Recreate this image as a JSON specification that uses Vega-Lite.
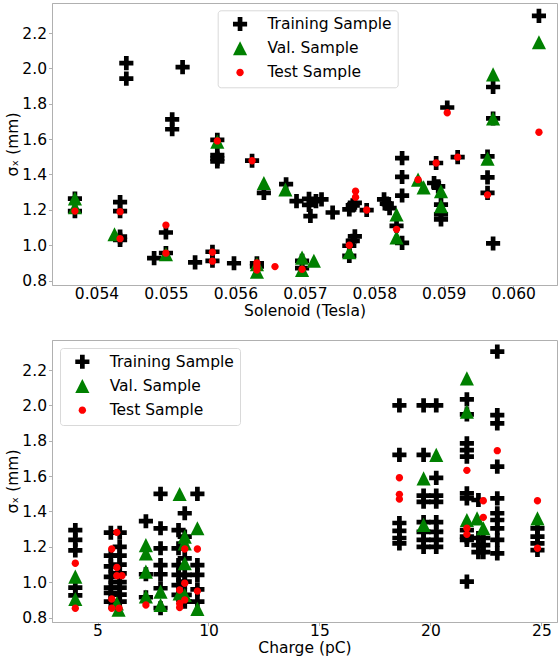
{
  "$schema": "https://vega.github.io/schema/vega-lite/v6.json",
  "padding": {"top": 2, "left": 5, "right": 2, "bottom": 0},
  "config": {
    "font": "DejaVu Sans",
    "view": {"stroke": "#b0b0b0", "strokeWidth": 1},
    "axis": {"grid": false, "domainColor": "#b0b0b0", "tickColor": "#b0b0b0", "tickSize": 3.5, "labelFontSize": 15.5, "titleFontSize": 15.5, "labelColor": "black", "titleColor": "black", "titleFontWeight": "normal", "labelFont": "DejaVu Sans", "titleFont": "DejaVu Sans", "labelPadding": 2},
    "axisX": {"labelPadding": -2.5, "titlePadding": 1.5},
    "legend": {"orient": "none", "title": null, "labelFontSize": 15.5, "labelFont": "DejaVu Sans", "labelColor": "black", "fillColor": "white", "strokeColor": "#d9d9d9", "cornerRadius": 3, "padding": 6, "symbolSize": 200, "symbolOffset": 8.6, "labelOffset": 19.6, "rowPadding": 7.2, "symbolStrokeWidth": 0},
    "concat": {"spacing": 20}
  },
  "datasets": {
    "top": [
      {"sol": 0.05369, "sigma": 1.264, "sample": "Training Sample"},
      {"sol": 0.05369, "sigma": 1.193, "sample": "Training Sample"},
      {"sol": 0.05443, "sigma": 2.030, "sample": "Training Sample"},
      {"sol": 0.05443, "sigma": 1.942, "sample": "Training Sample"},
      {"sol": 0.05524, "sigma": 2.007, "sample": "Training Sample"},
      {"sol": 0.05509, "sigma": 1.712, "sample": "Training Sample"},
      {"sol": 0.05509, "sigma": 1.656, "sample": "Training Sample"},
      {"sol": 0.05434, "sigma": 1.244, "sample": "Training Sample"},
      {"sol": 0.05434, "sigma": 1.193, "sample": "Training Sample"},
      {"sol": 0.05434, "sigma": 1.049, "sample": "Training Sample"},
      {"sol": 0.05434, "sigma": 1.030, "sample": "Training Sample"},
      {"sol": 0.05483, "sigma": 0.927, "sample": "Training Sample"},
      {"sol": 0.05500, "sigma": 1.072, "sample": "Training Sample"},
      {"sol": 0.05500, "sigma": 0.956, "sample": "Training Sample"},
      {"sol": 0.05542, "sigma": 0.903, "sample": "Training Sample"},
      {"sol": 0.05567, "sigma": 0.963, "sample": "Training Sample"},
      {"sol": 0.05567, "sigma": 0.912, "sample": "Training Sample"},
      {"sol": 0.05574, "sigma": 1.596, "sample": "Training Sample"},
      {"sol": 0.05574, "sigma": 1.510, "sample": "Training Sample"},
      {"sol": 0.05574, "sigma": 1.490, "sample": "Training Sample"},
      {"sol": 0.05574, "sigma": 1.474, "sample": "Training Sample"},
      {"sol": 0.05598, "sigma": 0.898, "sample": "Training Sample"},
      {"sol": 0.05624, "sigma": 1.478, "sample": "Training Sample"},
      {"sol": 0.05641, "sigma": 1.296, "sample": "Training Sample"},
      {"sol": 0.05673, "sigma": 1.345, "sample": "Training Sample"},
      {"sol": 0.05688, "sigma": 1.249, "sample": "Training Sample"},
      {"sol": 0.05706, "sigma": 1.262, "sample": "Training Sample"},
      {"sol": 0.05706, "sigma": 1.228, "sample": "Training Sample"},
      {"sol": 0.05708, "sigma": 1.165, "sample": "Training Sample"},
      {"sol": 0.05716, "sigma": 1.249, "sample": "Training Sample"},
      {"sol": 0.05724, "sigma": 1.259, "sample": "Training Sample"},
      {"sol": 0.05740, "sigma": 1.185, "sample": "Training Sample"},
      {"sol": 0.05631, "sigma": 0.898, "sample": "Training Sample"},
      {"sol": 0.05631, "sigma": 0.880, "sample": "Training Sample"},
      {"sol": 0.05696, "sigma": 0.912, "sample": "Training Sample"},
      {"sol": 0.05696, "sigma": 0.870, "sample": "Training Sample"},
      {"sol": 0.05764, "sigma": 1.203, "sample": "Training Sample"},
      {"sol": 0.05769, "sigma": 1.225, "sample": "Training Sample"},
      {"sol": 0.05772, "sigma": 1.240, "sample": "Training Sample"},
      {"sol": 0.05789, "sigma": 1.199, "sample": "Training Sample"},
      {"sol": 0.05764, "sigma": 0.997, "sample": "Training Sample"},
      {"sol": 0.05764, "sigma": 0.940, "sample": "Training Sample"},
      {"sol": 0.05769, "sigma": 1.025, "sample": "Training Sample"},
      {"sol": 0.05772, "sigma": 1.050, "sample": "Training Sample"},
      {"sol": 0.05814, "sigma": 1.259, "sample": "Training Sample"},
      {"sol": 0.05818, "sigma": 1.235, "sample": "Training Sample"},
      {"sol": 0.05822, "sigma": 1.210, "sample": "Training Sample"},
      {"sol": 0.05832, "sigma": 1.110, "sample": "Training Sample"},
      {"sol": 0.05840, "sigma": 1.493, "sample": "Training Sample"},
      {"sol": 0.05840, "sigma": 1.386, "sample": "Training Sample"},
      {"sol": 0.05840, "sigma": 1.281, "sample": "Training Sample"},
      {"sol": 0.05840, "sigma": 1.013, "sample": "Training Sample"},
      {"sol": 0.05886, "sigma": 1.352, "sample": "Training Sample"},
      {"sol": 0.05889, "sigma": 1.465, "sample": "Training Sample"},
      {"sol": 0.05892, "sigma": 1.333, "sample": "Training Sample"},
      {"sol": 0.05896, "sigma": 1.230, "sample": "Training Sample"},
      {"sol": 0.05896, "sigma": 1.175, "sample": "Training Sample"},
      {"sol": 0.05896, "sigma": 1.146, "sample": "Training Sample"},
      {"sol": 0.05905, "sigma": 1.779, "sample": "Training Sample"},
      {"sol": 0.05920, "sigma": 1.498, "sample": "Training Sample"},
      {"sol": 0.05963, "sigma": 1.502, "sample": "Training Sample"},
      {"sol": 0.05963, "sigma": 1.384, "sample": "Training Sample"},
      {"sol": 0.05963, "sigma": 1.296, "sample": "Training Sample"},
      {"sol": 0.05971, "sigma": 1.895, "sample": "Training Sample"},
      {"sol": 0.05971, "sigma": 1.717, "sample": "Training Sample"},
      {"sol": 0.05971, "sigma": 1.010, "sample": "Training Sample"},
      {"sol": 0.06037, "sigma": 2.297, "sample": "Training Sample"},
      {"sol": 0.05369, "sigma": 1.264, "sample": "Val. Sample"},
      {"sol": 0.05369, "sigma": 1.215, "sample": "Val. Sample"},
      {"sol": 0.05426, "sigma": 1.062, "sample": "Val. Sample"},
      {"sol": 0.05500, "sigma": 0.950, "sample": "Val. Sample"},
      {"sol": 0.05574, "sigma": 1.586, "sample": "Val. Sample"},
      {"sol": 0.05631, "sigma": 0.893, "sample": "Val. Sample"},
      {"sol": 0.05631, "sigma": 0.850, "sample": "Val. Sample"},
      {"sol": 0.05641, "sigma": 1.352, "sample": "Val. Sample"},
      {"sol": 0.05672, "sigma": 1.315, "sample": "Val. Sample"},
      {"sol": 0.05696, "sigma": 0.930, "sample": "Val. Sample"},
      {"sol": 0.05696, "sigma": 0.860, "sample": "Val. Sample"},
      {"sol": 0.05713, "sigma": 0.912, "sample": "Val. Sample"},
      {"sol": 0.05764, "sigma": 0.960, "sample": "Val. Sample"},
      {"sol": 0.05832, "sigma": 1.174, "sample": "Val. Sample"},
      {"sol": 0.05832, "sigma": 1.044, "sample": "Val. Sample"},
      {"sol": 0.05863, "sigma": 1.371, "sample": "Val. Sample"},
      {"sol": 0.05871, "sigma": 1.327, "sample": "Val. Sample"},
      {"sol": 0.05896, "sigma": 1.305, "sample": "Val. Sample"},
      {"sol": 0.05896, "sigma": 1.221, "sample": "Val. Sample"},
      {"sol": 0.05963, "sigma": 1.490, "sample": "Val. Sample"},
      {"sol": 0.05971, "sigma": 1.966, "sample": "Val. Sample"},
      {"sol": 0.05971, "sigma": 1.717, "sample": "Val. Sample"},
      {"sol": 0.06037, "sigma": 2.148, "sample": "Val. Sample"},
      {"sol": 0.05369, "sigma": 1.193, "sample": "Test Sample"},
      {"sol": 0.05434, "sigma": 1.190, "sample": "Test Sample"},
      {"sol": 0.05434, "sigma": 1.037, "sample": "Test Sample"},
      {"sol": 0.05500, "sigma": 1.114, "sample": "Test Sample"},
      {"sol": 0.05500, "sigma": 0.955, "sample": "Test Sample"},
      {"sol": 0.05567, "sigma": 0.960, "sample": "Test Sample"},
      {"sol": 0.05567, "sigma": 0.910, "sample": "Test Sample"},
      {"sol": 0.05574, "sigma": 1.590, "sample": "Test Sample"},
      {"sol": 0.05624, "sigma": 1.478, "sample": "Test Sample"},
      {"sol": 0.05631, "sigma": 0.900, "sample": "Test Sample"},
      {"sol": 0.05631, "sigma": 0.880, "sample": "Test Sample"},
      {"sol": 0.05631, "sigma": 0.860, "sample": "Test Sample"},
      {"sol": 0.05657, "sigma": 0.879, "sample": "Test Sample"},
      {"sol": 0.05696, "sigma": 0.864, "sample": "Test Sample"},
      {"sol": 0.05764, "sigma": 1.000, "sample": "Test Sample"},
      {"sol": 0.05773, "sigma": 1.305, "sample": "Test Sample"},
      {"sol": 0.05773, "sigma": 1.272, "sample": "Test Sample"},
      {"sol": 0.05789, "sigma": 1.199, "sample": "Test Sample"},
      {"sol": 0.05832, "sigma": 1.090, "sample": "Test Sample"},
      {"sol": 0.05863, "sigma": 1.371, "sample": "Test Sample"},
      {"sol": 0.05889, "sigma": 1.465, "sample": "Test Sample"},
      {"sol": 0.05920, "sigma": 1.498, "sample": "Test Sample"},
      {"sol": 0.05905, "sigma": 1.749, "sample": "Test Sample"},
      {"sol": 0.05963, "sigma": 1.285, "sample": "Test Sample"},
      {"sol": 0.06037, "sigma": 1.639, "sample": "Test Sample"}
    ],
    "bottom": [
      {"charge": 4.0, "sigma": 1.295, "sample": "Training Sample"},
      {"charge": 4.0, "sigma": 1.24, "sample": "Training Sample"},
      {"charge": 4.0, "sigma": 1.18, "sample": "Training Sample"},
      {"charge": 4.0, "sigma": 0.97, "sample": "Training Sample"},
      {"charge": 4.0, "sigma": 0.925, "sample": "Training Sample"},
      {"charge": 5.6, "sigma": 1.28, "sample": "Training Sample"},
      {"charge": 5.6, "sigma": 1.15, "sample": "Training Sample"},
      {"charge": 5.6, "sigma": 1.09, "sample": "Training Sample"},
      {"charge": 5.6, "sigma": 1.03, "sample": "Training Sample"},
      {"charge": 5.6, "sigma": 0.97, "sample": "Training Sample"},
      {"charge": 5.6, "sigma": 0.94, "sample": "Training Sample"},
      {"charge": 5.6, "sigma": 0.89, "sample": "Training Sample"},
      {"charge": 6.0, "sigma": 1.28, "sample": "Training Sample"},
      {"charge": 6.0, "sigma": 1.2, "sample": "Training Sample"},
      {"charge": 6.0, "sigma": 1.15, "sample": "Training Sample"},
      {"charge": 6.0, "sigma": 1.1, "sample": "Training Sample"},
      {"charge": 6.0, "sigma": 1.05, "sample": "Training Sample"},
      {"charge": 6.0, "sigma": 1.0, "sample": "Training Sample"},
      {"charge": 6.0, "sigma": 0.97, "sample": "Training Sample"},
      {"charge": 6.0, "sigma": 0.93, "sample": "Training Sample"},
      {"charge": 6.0, "sigma": 0.89, "sample": "Training Sample"},
      {"charge": 7.18, "sigma": 1.345, "sample": "Training Sample"},
      {"charge": 7.18, "sigma": 1.045, "sample": "Training Sample"},
      {"charge": 7.18, "sigma": 0.915, "sample": "Training Sample"},
      {"charge": 7.84, "sigma": 1.5, "sample": "Training Sample"},
      {"charge": 7.84, "sigma": 1.305, "sample": "Training Sample"},
      {"charge": 7.84, "sigma": 1.192, "sample": "Training Sample"},
      {"charge": 7.84, "sigma": 1.097, "sample": "Training Sample"},
      {"charge": 7.84, "sigma": 1.045, "sample": "Training Sample"},
      {"charge": 7.84, "sigma": 0.966, "sample": "Training Sample"},
      {"charge": 7.84, "sigma": 0.853, "sample": "Training Sample"},
      {"charge": 8.65, "sigma": 1.295, "sample": "Training Sample"},
      {"charge": 8.65, "sigma": 1.192, "sample": "Training Sample"},
      {"charge": 8.65, "sigma": 1.097, "sample": "Training Sample"},
      {"charge": 8.65, "sigma": 1.041, "sample": "Training Sample"},
      {"charge": 8.65, "sigma": 0.984, "sample": "Training Sample"},
      {"charge": 8.65, "sigma": 0.928, "sample": "Training Sample"},
      {"charge": 8.93, "sigma": 1.39, "sample": "Training Sample"},
      {"charge": 8.93, "sigma": 1.258, "sample": "Training Sample"},
      {"charge": 8.93, "sigma": 1.135, "sample": "Training Sample"},
      {"charge": 8.93, "sigma": 1.041, "sample": "Training Sample"},
      {"charge": 8.93, "sigma": 1.003, "sample": "Training Sample"},
      {"charge": 8.93, "sigma": 0.928, "sample": "Training Sample"},
      {"charge": 8.93, "sigma": 0.89, "sample": "Training Sample"},
      {"charge": 9.5, "sigma": 1.5, "sample": "Training Sample"},
      {"charge": 9.5, "sigma": 1.097, "sample": "Training Sample"},
      {"charge": 9.5, "sigma": 1.041, "sample": "Training Sample"},
      {"charge": 9.5, "sigma": 0.96, "sample": "Training Sample"},
      {"charge": 9.5, "sigma": 0.89, "sample": "Training Sample"},
      {"charge": 18.6, "sigma": 2.0, "sample": "Training Sample"},
      {"charge": 18.6, "sigma": 1.72, "sample": "Training Sample"},
      {"charge": 18.6, "sigma": 1.335, "sample": "Training Sample"},
      {"charge": 18.6, "sigma": 1.29, "sample": "Training Sample"},
      {"charge": 18.6, "sigma": 1.25, "sample": "Training Sample"},
      {"charge": 18.6, "sigma": 1.22, "sample": "Training Sample"},
      {"charge": 19.69, "sigma": 2.0, "sample": "Training Sample"},
      {"charge": 19.69, "sigma": 1.72, "sample": "Training Sample"},
      {"charge": 19.69, "sigma": 1.49, "sample": "Training Sample"},
      {"charge": 19.69, "sigma": 1.455, "sample": "Training Sample"},
      {"charge": 19.69, "sigma": 1.34, "sample": "Training Sample"},
      {"charge": 19.69, "sigma": 1.285, "sample": "Training Sample"},
      {"charge": 19.69, "sigma": 1.24, "sample": "Training Sample"},
      {"charge": 19.69, "sigma": 1.2, "sample": "Training Sample"},
      {"charge": 20.26, "sigma": 2.0, "sample": "Training Sample"},
      {"charge": 20.26, "sigma": 1.59, "sample": "Training Sample"},
      {"charge": 20.26, "sigma": 1.49, "sample": "Training Sample"},
      {"charge": 20.26, "sigma": 1.455, "sample": "Training Sample"},
      {"charge": 20.26, "sigma": 1.34, "sample": "Training Sample"},
      {"charge": 20.26, "sigma": 1.285, "sample": "Training Sample"},
      {"charge": 20.26, "sigma": 1.24, "sample": "Training Sample"},
      {"charge": 20.26, "sigma": 1.2, "sample": "Training Sample"},
      {"charge": 21.64, "sigma": 2.034, "sample": "Training Sample"},
      {"charge": 21.64, "sigma": 1.949, "sample": "Training Sample"},
      {"charge": 21.64, "sigma": 1.785, "sample": "Training Sample"},
      {"charge": 21.64, "sigma": 1.747, "sample": "Training Sample"},
      {"charge": 21.64, "sigma": 1.71, "sample": "Training Sample"},
      {"charge": 21.64, "sigma": 1.503, "sample": "Training Sample"},
      {"charge": 21.64, "sigma": 1.474, "sample": "Training Sample"},
      {"charge": 21.64, "sigma": 1.295, "sample": "Training Sample"},
      {"charge": 21.64, "sigma": 1.258, "sample": "Training Sample"},
      {"charge": 21.64, "sigma": 1.239, "sample": "Training Sample"},
      {"charge": 21.64, "sigma": 1.003, "sample": "Training Sample"},
      {"charge": 22.16, "sigma": 1.465, "sample": "Training Sample"},
      {"charge": 22.16, "sigma": 1.25, "sample": "Training Sample"},
      {"charge": 22.16, "sigma": 1.21, "sample": "Training Sample"},
      {"charge": 22.16, "sigma": 1.17, "sample": "Training Sample"},
      {"charge": 22.38, "sigma": 1.25, "sample": "Training Sample"},
      {"charge": 22.38, "sigma": 1.21, "sample": "Training Sample"},
      {"charge": 22.38, "sigma": 1.17, "sample": "Training Sample"},
      {"charge": 23.01, "sigma": 2.304, "sample": "Training Sample"},
      {"charge": 23.01, "sigma": 1.945, "sample": "Training Sample"},
      {"charge": 23.01, "sigma": 1.898, "sample": "Training Sample"},
      {"charge": 23.01, "sigma": 1.654, "sample": "Training Sample"},
      {"charge": 23.01, "sigma": 1.474, "sample": "Training Sample"},
      {"charge": 23.01, "sigma": 1.39, "sample": "Training Sample"},
      {"charge": 23.01, "sigma": 1.352, "sample": "Training Sample"},
      {"charge": 23.01, "sigma": 1.305, "sample": "Training Sample"},
      {"charge": 23.01, "sigma": 1.239, "sample": "Training Sample"},
      {"charge": 23.01, "sigma": 1.163, "sample": "Training Sample"},
      {"charge": 24.82, "sigma": 1.305, "sample": "Training Sample"},
      {"charge": 24.82, "sigma": 1.258, "sample": "Training Sample"},
      {"charge": 24.82, "sigma": 1.22, "sample": "Training Sample"},
      {"charge": 24.82, "sigma": 1.182, "sample": "Training Sample"},
      {"charge": 4.0, "sigma": 1.032, "sample": "Val. Sample"},
      {"charge": 4.0, "sigma": 0.905, "sample": "Val. Sample"},
      {"charge": 5.87, "sigma": 0.88, "sample": "Val. Sample"},
      {"charge": 5.95, "sigma": 0.845, "sample": "Val. Sample"},
      {"charge": 7.18, "sigma": 1.21, "sample": "Val. Sample"},
      {"charge": 7.18, "sigma": 1.163, "sample": "Val. Sample"},
      {"charge": 7.18, "sigma": 1.06, "sample": "Val. Sample"},
      {"charge": 7.18, "sigma": 0.919, "sample": "Val. Sample"},
      {"charge": 7.84, "sigma": 0.947, "sample": "Val. Sample"},
      {"charge": 7.84, "sigma": 0.871, "sample": "Val. Sample"},
      {"charge": 8.7, "sigma": 1.499, "sample": "Val. Sample"},
      {"charge": 8.7, "sigma": 0.937, "sample": "Val. Sample"},
      {"charge": 8.93, "sigma": 1.258, "sample": "Val. Sample"},
      {"charge": 8.93, "sigma": 1.22, "sample": "Val. Sample"},
      {"charge": 8.93, "sigma": 1.107, "sample": "Val. Sample"},
      {"charge": 8.93, "sigma": 0.928, "sample": "Val. Sample"},
      {"charge": 9.5, "sigma": 1.305, "sample": "Val. Sample"},
      {"charge": 9.5, "sigma": 0.849, "sample": "Val. Sample"},
      {"charge": 19.69, "sigma": 1.587, "sample": "Val. Sample"},
      {"charge": 19.69, "sigma": 1.324, "sample": "Val. Sample"},
      {"charge": 20.26, "sigma": 1.72, "sample": "Val. Sample"},
      {"charge": 21.64, "sigma": 2.153, "sample": "Val. Sample"},
      {"charge": 21.64, "sigma": 1.964, "sample": "Val. Sample"},
      {"charge": 21.64, "sigma": 1.352, "sample": "Val. Sample"},
      {"charge": 22.1, "sigma": 1.361, "sample": "Val. Sample"},
      {"charge": 22.38, "sigma": 1.305, "sample": "Val. Sample"},
      {"charge": 24.82, "sigma": 1.361, "sample": "Val. Sample"},
      {"charge": 4.0, "sigma": 1.107, "sample": "Test Sample"},
      {"charge": 4.0, "sigma": 0.853, "sample": "Test Sample"},
      {"charge": 5.87, "sigma": 1.282, "sample": "Test Sample"},
      {"charge": 5.64, "sigma": 1.188, "sample": "Test Sample"},
      {"charge": 5.87, "sigma": 1.083, "sample": "Test Sample"},
      {"charge": 5.87, "sigma": 1.037, "sample": "Test Sample"},
      {"charge": 6.1, "sigma": 1.037, "sample": "Test Sample"},
      {"charge": 5.64, "sigma": 0.905, "sample": "Test Sample"},
      {"charge": 5.64, "sigma": 0.853, "sample": "Test Sample"},
      {"charge": 5.97, "sigma": 0.853, "sample": "Test Sample"},
      {"charge": 7.18, "sigma": 0.871, "sample": "Test Sample"},
      {"charge": 8.93, "sigma": 1.188, "sample": "Test Sample"},
      {"charge": 8.93, "sigma": 0.994, "sample": "Test Sample"},
      {"charge": 8.93, "sigma": 0.90, "sample": "Test Sample"},
      {"charge": 8.7, "sigma": 0.956, "sample": "Test Sample"},
      {"charge": 8.7, "sigma": 0.88, "sample": "Test Sample"},
      {"charge": 8.7, "sigma": 0.857, "sample": "Test Sample"},
      {"charge": 9.5, "sigma": 1.188, "sample": "Test Sample"},
      {"charge": 9.5, "sigma": 0.95, "sample": "Test Sample"},
      {"charge": 18.6, "sigma": 1.591, "sample": "Test Sample"},
      {"charge": 18.6, "sigma": 1.497, "sample": "Test Sample"},
      {"charge": 18.6, "sigma": 1.47, "sample": "Test Sample"},
      {"charge": 21.64, "sigma": 1.633, "sample": "Test Sample"},
      {"charge": 21.64, "sigma": 1.305, "sample": "Test Sample"},
      {"charge": 21.64, "sigma": 1.271, "sample": "Test Sample"},
      {"charge": 22.38, "sigma": 1.461, "sample": "Test Sample"},
      {"charge": 22.38, "sigma": 1.367, "sample": "Test Sample"},
      {"charge": 23.01, "sigma": 1.744, "sample": "Test Sample"},
      {"charge": 24.82, "sigma": 1.461, "sample": "Test Sample"},
      {"charge": 24.82, "sigma": 1.192, "sample": "Test Sample"}
    ]
  },
  "vconcat": [
    {
      "width": 505,
      "height": 282,
      "data": {"name": "top"},
      "mark": {"type": "point", "filled": true, "opacity": 1, "size": 200},
      "encoding": {
        "x": {"field": "sol", "type": "quantitative", "scale": {"domain": [0.05336, 0.06063], "nice": false, "zero": false}, "axis": {"title": "Solenoid (Tesla)", "values": [0.054, 0.055, 0.056, 0.057, 0.058, 0.059, 0.060], "format": ".3f"}},
        "y": {"field": "sigma", "type": "quantitative", "scale": {"domain": [0.775, 2.37], "nice": false, "zero": false}, "axis": {"title": "σₓ (mm)", "values": [0.8, 1.0, 1.2, 1.4, 1.6, 1.8, 2.0, 2.2], "format": ".1f", "titlePadding": 1}},
        "shape": {"field": "sample", "type": "nominal", "scale": {"domain": ["Training Sample", "Val. Sample", "Test Sample"], "range": ["M-1,-0.333H-0.333V-1H0.333V-0.333H1V0.333H0.333V1H-0.333V0.333H-1Z", "M0,-1L1,1L-1,1Z", "M0.52,0A0.52,0.52 0 1,1 -0.52,0A0.52,0.52 0 1,1 0.52,0Z"]}, "legend": {"legendX": 165.7, "legendY": 7.3}},
        "color": {"field": "sample", "type": "nominal", "scale": {"domain": ["Training Sample", "Val. Sample", "Test Sample"], "range": ["black", "green", "red"]}, "legend": {"legendX": 165.7, "legendY": 7.3}}
      }
    },
    {
      "width": 505,
      "height": 282,
      "data": {"name": "bottom"},
      "mark": {"type": "point", "filled": true, "opacity": 1, "size": 200},
      "encoding": {
        "x": {"field": "charge", "type": "quantitative", "scale": {"domain": [2.95, 25.7], "nice": false, "zero": false}, "axis": {"title": "Charge (pC)", "values": [5, 10, 15, 20, 25], "format": "d"}},
        "y": {"field": "sigma", "type": "quantitative", "scale": {"domain": [0.775, 2.37], "nice": false, "zero": false}, "axis": {"title": "σₓ (mm)", "values": [0.8, 1.0, 1.2, 1.4, 1.6, 1.8, 2.0, 2.2], "format": ".1f", "titlePadding": 1}},
        "shape": {"field": "sample", "type": "nominal", "scale": {"domain": ["Training Sample", "Val. Sample", "Test Sample"], "range": ["M-1,-0.333H-0.333V-1H0.333V-0.333H1V0.333H0.333V1H-0.333V0.333H-1Z", "M0,-1L1,1L-1,1Z", "M0.52,0A0.52,0.52 0 1,1 -0.52,0A0.52,0.52 0 1,1 0.52,0Z"]}, "legend": {"legendX": 8, "legendY": 8}},
        "color": {"field": "sample", "type": "nominal", "scale": {"domain": ["Training Sample", "Val. Sample", "Test Sample"], "range": ["black", "green", "red"]}, "legend": {"legendX": 8, "legendY": 8}}
      }
    }
  ],
  "resolve": {"scale": {"x": "independent", "shape": "independent", "color": "independent"}, "legend": {"shape": "independent", "color": "independent"}}
}
